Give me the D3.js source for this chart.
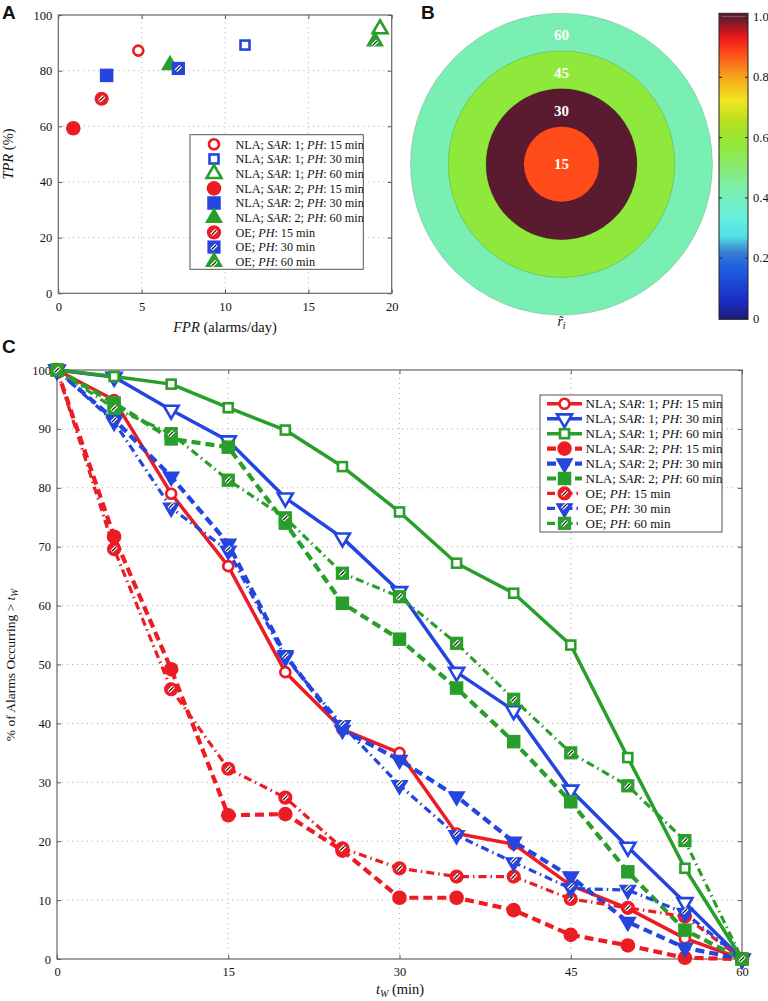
<!DOCTYPE html>
<html><head><meta charset="utf-8">
<script src="https://cdn.jsdelivr.net/npm/d3@7"></script>
<style>
body{margin:0;background:#fff}
svg{display:block}
text{font-family:"Liberation Serif","Times New Roman",serif;fill:#111}
</style>
</head><body>
<svg id="c" width="768" height="1001" font-family="Liberation Serif, Times New Roman, serif"></svg>
<script>
// ---------------- DATA ----------------
const methods   = ["NLA","NLA","NLA","NLA","NLA","NLA","OE","OE","OE"];
const sarValues = [1,1,1,2,2,2,null,null,null];
const phValues  = [15,30,60,15,30,60,15,30,60];

// Panel A
const panelA_FPR = [4.8, 11.2, 19.3, 0.9, 2.9, 6.7, 2.6, 7.2, 19.0];
const panelA_TPR = [87.2, 89.2, 95.0, 59.3, 78.3, 82.0, 69.9, 80.8, 90.6];
const panelA_xTicks = [0,5,10,15,20];
const panelA_yTicks = [0,20,40,60,80,100];

// Panel B
const ringPH     = [60,45,30,15];
const ringValue  = [0.42,0.57,1.0,0.88];
const colorbarTicks = [0,0.2,0.4,0.6,0.8,1.0];
const cmapStops  = [0,0.06,0.17,0.22,0.27,0.33,0.42,0.5,0.57,0.65,0.72,0.8,0.88,0.93,1.0];
const cmapColors = ["#1c1c7a","#1a2ec8","#2060e0","#3a80d0","#50e0e8","#66eedd","#7aefb3",
                    "#88ea70","#8fe93c","#b4e020","#f0e61e","#f8a41c","#ff4a1a","#ee1818","#5a1a30"];

// Panel C
const tW = [0,5,10,15,20,25,30,35,40,45,50,55,60];
const nla1_15 = [100,94.9,79.0,66.7,48.7,39.0,35.0,21.3,19.5,12.5,8.6,3.5,0];
const nla1_30 = [100,98.8,93.2,88.0,78.3,71.5,62.4,48.7,42.2,28.7,19.0,9.6,0];
const nla1_60 = [100,98.9,97.6,93.6,89.8,83.6,75.9,67.2,62.1,53.3,34.2,15.4,0];
const nla2_15 = [100,71.7,49.2,24.4,24.6,18.4,10.4,10.4,8.3,4.1,2.3,0.2,0];
const nla2_30 = [100,91.6,81.9,70.5,51.6,38.9,33.8,27.6,19.9,14.0,6.3,1.9,0];
const nla2_60 = [100,94.4,88.3,86.9,74.0,60.4,54.3,46.0,36.9,26.7,14.8,4.9,0];
const oe_15   = [100,69.6,45.8,32.3,27.4,18.8,15.4,14.0,14.0,10.2,8.7,7.2,0];
const oe_30   = [100,91.2,76.6,69.3,51.2,39.7,29.5,21.0,16.4,12.0,11.7,7.8,0];
const oe_60   = [100,93.5,89.2,81.3,74.9,65.5,61.5,53.6,44.1,35.0,29.4,20.1,0];
const panelC_series = [nla1_15,nla1_30,nla1_60,nla2_15,nla2_30,nla2_60,oe_15,oe_30,oe_60];
const panelC_xTicks = [0,15,30,45,60];
const panelC_yTicks = [0,10,20,30,40,50,60,70,80,90,100];

// ---------------- STYLE HELPERS ----------------
const svg = d3.select("#c");
const SERIF = "'Liberation Serif','Times New Roman',serif";
const colorByPH = {15:"#ec1c24",30:"#2445de",60:"#2a9e2a"};
const kindOf = i => methods[i]==="OE" ? "hatched" : (sarValues[i]===1 ? "open" : "filled");
const dashOf = i => methods[i]==="OE" ? "8,4,1.5,4" : (sarValues[i]===1 ? null : "9,5");
const widthOf = i => methods[i]==="OE" ? 3.2 : (sarValues[i]===1 ? 3.5 : 4.2);

function triPath(w, up){
  const h = w*0.866;
  return up ? `M0,${-2*h/3}L${w/2},${h/3}L${-w/2},${h/3}Z`
            : `M0,${2*h/3}L${w/2},${-h/3}L${-w/2},${-h/3}Z`;
}
function marker(g, shape, kind, color, x, y, up){
  const m = g.append("g").attr("transform",`translate(${x},${y})`);
  let el;
  const sz = {
    circle:{open:5,filled:7.3,hatched:6.5},
    square:{open:9,filled:13.5,hatched:12},
    tri:{open:15,filled:18,hatched:16}
  }[shape][kind];
  if(shape==="circle") el = m.append("circle").attr("r",sz);
  else if(shape==="square") el = m.append("rect").attr("x",-sz/2).attr("y",-sz/2).attr("width",sz).attr("height",sz);
  else el = m.append("path").attr("d",triPath(sz,up));
  if(kind==="open") el.attr("fill","#fff").attr("stroke",color).attr("stroke-width",2.6);
  else el.attr("fill",color).attr("stroke",color).attr("stroke-width",kind==="hatched"?1.2:0);
  if(kind==="hatched"){
    const dy = shape==="tri" ? (up?2:-2) : 0;
    m.append("line").attr("x1",-2.4).attr("y1",2.4+dy).attr("x2",2.4).attr("y2",-2.4+dy)
      .attr("stroke","#fff").attr("stroke-width",3.6);
    m.append("line").attr("x1",-2.2).attr("y1",2.2+dy).attr("x2",2.2).attr("y2",-2.2+dy)
      .attr("stroke","#000").attr("stroke-width",1.1);
  }
}
const shapeByPH = {15:"circle",30:"square",60:"tri"};
const shapeByPH_C = {15:"circle",30:"tri",60:"square"};

function addLabel(textSel, i){
  const parts = methods[i]==="NLA"
    ? [["NLA; ",0],["SAR",1],[": "+sarValues[i]+"; ",0],["PH",1],[": "+phValues[i]+" min",0]]
    : [["OE; ",0],["PH",1],[": "+phValues[i]+" min",0]];
  parts.forEach(p=>textSel.append("tspan").text(p[0]).attr("font-style",p[1]?"italic":"normal"));
}
function panelLetter(t,x,y){
  svg.append("text").attr("x",x).attr("y",y).text(t)
    .style("font-family","'Liberation Sans',Arial,sans-serif").attr("font-weight","bold").attr("font-size",19);
}
function frameAxes(g, x, y, xTicks, yTicks, yFmt, xLabelDy){
  const [x0,x1]=x.range(), [y0,y1]=y.range();
  g.append("g").selectAll("line").data(xTicks.slice(1,-1)).join("line")
    .attr("x1",d=>x(d)).attr("x2",d=>x(d)).attr("y1",y0).attr("y2",y1)
    .attr("stroke","#aaa").attr("stroke-width",1).attr("stroke-dasharray","1,4");
  g.append("g").selectAll("line").data(yTicks.slice(1,-1)).join("line")
    .attr("y1",d=>y(d)).attr("y2",d=>y(d)).attr("x1",x0).attr("x2",x1)
    .attr("stroke","#aaa").attr("stroke-width",1).attr("stroke-dasharray","1,4");
  const ax = g.append("g").attr("transform",`translate(0,${y0})`)
    .call(d3.axisBottom(x).tickValues(xTicks).tickSize(-4).tickPadding(xLabelDy).tickFormat(d3.format("d")));
  const ay = g.append("g").attr("transform",`translate(${x0},0)`)
    .call(d3.axisLeft(y).tickValues(yTicks).tickSize(-4).tickPadding(6).tickFormat(yFmt||d3.format("d")));
  const at = g.append("g").attr("transform",`translate(0,${y1})`)
    .call(d3.axisTop(x).tickValues(xTicks).tickSize(-4).tickFormat(""));
  const ar = g.append("g").attr("transform",`translate(${x1},0)`)
    .call(d3.axisRight(y).tickValues(yTicks).tickSize(-4).tickFormat(""));
  [ax,ay,at,ar].forEach(a=>{
    a.attr("font-family",null);
    a.select(".domain").remove();
    a.selectAll("line").attr("stroke","#555");
    a.selectAll("text").attr("font-size",12.5).style("font-family",SERIF).attr("fill","#111");
  });
  g.append("rect").attr("x",x0).attr("y",y1).attr("width",x1-x0).attr("height",y0-y1)
    .attr("fill","none").attr("stroke","#666").attr("stroke-width",1.2);
}

// ---------------- PANEL A ----------------
(function(){
  const g = svg.append("g");
  const x = d3.scaleLinear().domain([0,20]).range([58.3,391.7]);
  const y = d3.scaleLinear().domain([0,100]).range([293.3,15]);
  frameAxes(g,x,y,panelA_xTicks,panelA_yTicks,null,9);
  panelA_FPR.forEach((f,i)=>{
    marker(g, shapeByPH[phValues[i]], kindOf(i), colorByPH[phValues[i]], x(f), y(panelA_TPR[i]), true);
  });
  const lg = g.append("g");
  lg.append("rect").attr("x",190).attr("y",134.7).attr("width",173.3).attr("height",134.6)
    .attr("fill","#fff").attr("stroke","#555").attr("stroke-width",1);
  methods.forEach((m,i)=>{
    const yy = 144.3 + i*14.68;
    marker(lg, shapeByPH[phValues[i]], kindOf(i), colorByPH[phValues[i]], 214, yy, true);
    const t = lg.append("text").attr("x",235.5).attr("y",yy).attr("dy","0.35em").attr("font-size",12.2)
      .style("font-family",SERIF);
    addLabel(t,i);
  });
  g.append("text").attr("x",225).attr("y",332).attr("text-anchor","middle").attr("font-size",14.5).style("font-family",SERIF)
    .call(t=>{t.append("tspan").attr("font-style","italic").text("FPR");t.append("tspan").text(" (alarms/day)");});
  g.append("text").attr("transform","translate(13,154) rotate(-90)").attr("text-anchor","middle").attr("font-size",14.5).style("font-family",SERIF)
    .call(t=>{t.append("tspan").attr("font-style","italic").text("TPR");t.append("tspan").text(" (%)");});
  panelLetter("A",2,19);
})();

// ---------------- PANEL B ----------------
(function(){
  const g = svg.append("g");
  const cmap = d3.scaleLinear().domain(cmapStops).range(cmapColors);
  const cx = 561.5, cy = 164.2;
  const r = d3.scaleLinear().domain([0,60]).range([0,151]);
  ringPH.forEach((ph,i)=>{
    g.append("circle").attr("cx",cx).attr("cy",cy).attr("r",r(ph))
      .attr("fill",cmap(ringValue[i])).attr("stroke","rgba(0,0,0,0.25)").attr("stroke-width",0.6);
  });
  ringPH.forEach((ph,i)=>{
    const ty = ph===15 ? cy : cy - (r(ph)+r(ph-15))/2 + 3;
    g.append("text").attr("x",cx).attr("y",ty).attr("dy","0.35em").attr("text-anchor","middle").style("font-family",SERIF)
      .attr("font-size",15).attr("font-weight","bold").style("fill","#fff").text(ph);
  });
  g.append("text").attr("x",cx).attr("y",326).attr("text-anchor","middle").attr("font-size",14).attr("font-style","italic").style("font-family",SERIF)
    .call(t=>{t.append("tspan").text("r\u0303");t.append("tspan").attr("dy",3).attr("font-size",10).text("i");});
  const cb = d3.scaleLinear().domain([0,1]).range([318,16.5]);
  const defs = svg.append("defs");
  const grad = defs.append("linearGradient").attr("id","jet").attr("x1",0).attr("x2",0).attr("y1",1).attr("y2",0);
  cmapStops.forEach((s,i)=>grad.append("stop").attr("offset",s).attr("stop-color",cmapColors[i]));
  g.append("rect").attr("x",719).attr("y",cb(1)).attr("width",29).attr("height",cb(0)-cb(1)).attr("fill","url(#jet)");
  g.append("rect").attr("x",719).attr("y",13.3).attr("width",29).attr("height",cb(1)-13.3).attr("fill",cmapColors[cmapColors.length-1]);
  g.append("rect").attr("x",719).attr("y",cb(0)).attr("width",29).attr("height",319.3-cb(0)).attr("fill",cmapColors[0]);
  g.append("rect").attr("x",719).attr("y",13.3).attr("width",29).attr("height",306).attr("fill","none")
    .attr("stroke","#222").attr("stroke-width",1);
  const cax = g.append("g").attr("transform","translate(748,0)")
    .call(d3.axisRight(cb).tickValues(colorbarTicks).tickSize(-3).tickPadding(5)
      .tickFormat(d=>d===0?"0":d3.format(".1f")(d)));
  cax.attr("font-family",null);
  cax.select(".domain").remove();
  cax.selectAll("line").attr("stroke","#222");
  cax.selectAll("text").attr("font-size",12.5).attr("fill","#111").style("font-family",SERIF);
  const cal = g.append("g").attr("transform","translate(719,0)")
    .call(d3.axisLeft(cb).tickValues(colorbarTicks).tickSize(-3).tickFormat(""));
  cal.select(".domain").remove();
  cal.selectAll("line").attr("stroke","#222");
  panelLetter("B",421,19);
})();

// ---------------- PANEL C ----------------
(function(){
  const g = svg.append("g");
  const x = d3.scaleLinear().domain([0,60]).range([57,742]);
  const y = d3.scaleLinear().domain([0,100]).range([959,370]);
  frameAxes(g,x,y,panelC_xTicks,panelC_yTicks,null,8);
  const line = d3.line().x((d,j)=>x(tW[j])).y(d=>y(d));
  panelC_series.forEach((s,i)=>{
    const col = colorByPH[phValues[i]];
    g.append("path").datum(s).attr("d",line).attr("fill","none").attr("stroke",col)
      .attr("stroke-width",widthOf(i)).attr("stroke-dasharray",dashOf(i)).attr("stroke-linejoin","round");
    s.forEach((v,j)=>marker(g, shapeByPH_C[phValues[i]], kindOf(i), col, x(tW[j]), y(v), false));
  });
  const lg = g.append("g");
  lg.append("rect").attr("x",540).attr("y",395).attr("width",182).attr("height",137)
    .attr("fill","#fff").attr("stroke","#555").attr("stroke-width",1);
  methods.forEach((m,i)=>{
    const yy = 403.8 + i*14.94;
    const col = colorByPH[phValues[i]];
    lg.append("line").attr("x1",547).attr("x2",582).attr("y1",yy).attr("y2",yy).attr("stroke",col)
      .attr("stroke-width",widthOf(i)).attr("stroke-dasharray",dashOf(i));
    marker(lg, shapeByPH_C[phValues[i]], kindOf(i), col, 564.5, yy, false);
    const t = lg.append("text").attr("x",585.5).attr("y",yy).attr("dy","0.35em").attr("font-size",13).style("font-family",SERIF);
    addLabel(t,i);
  });
  g.append("text").attr("x",400).attr("y",994).attr("text-anchor","middle").attr("font-size",14.5).style("font-family",SERIF)
    .call(t=>{
      t.append("tspan").attr("font-style","italic").text("t");
      t.append("tspan").attr("font-style","italic").attr("font-size",10).attr("dy",3).text("W");
      t.append("tspan").attr("dy",-3).text(" (min)");
    });
  g.append("text").attr("transform","translate(15,665) rotate(-90)").attr("text-anchor","middle").attr("font-size",13.5).style("font-family",SERIF)
    .call(t=>{
      t.append("tspan").text("% of Alarms Occurring > ");
      t.append("tspan").attr("font-style","italic").text("t");
      t.append("tspan").attr("font-style","italic").attr("font-size",9.5).attr("dy",3).text("W");
    });
  panelLetter("C",2,353);
})();
</script>
</body></html>
